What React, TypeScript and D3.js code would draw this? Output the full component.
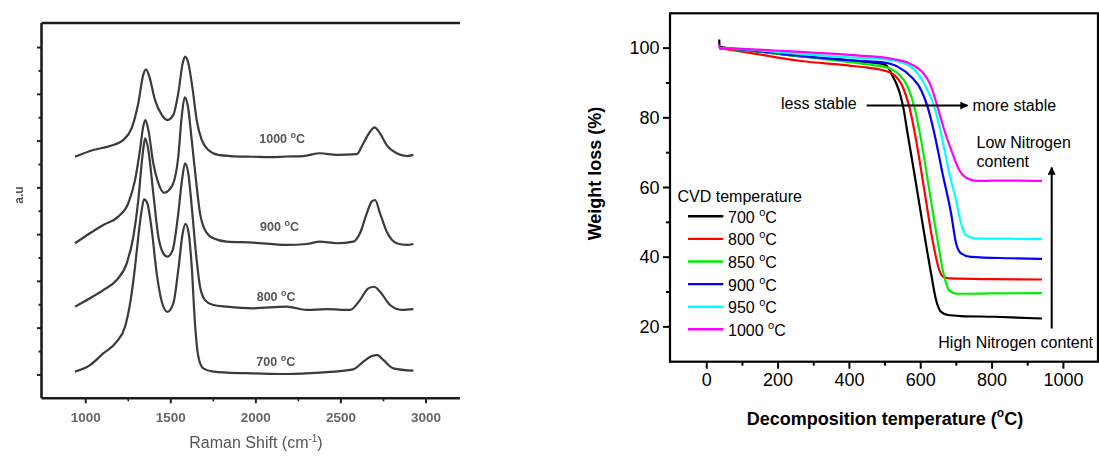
import React from 'react';
import * as d3 from 'd3';

// ---------- Left panel: Raman spectra (Raman shift cm-1, intensity a.u.) ----------
const ramanTicks = [1000, 1500, 2000, 2500, 3000];
const ramanMinorTicks = [1250, 1750, 2250, 2750];
const auTicks = [1, 2, 3, 4, 5, 6, 7, 8, 9, 10, 11, 12, 13, 14, 15];

const spec1000: [number, number][] = [
  [937, 10.33], [1045, 10.62], [1143, 10.79], [1221, 11.05], [1270, 11.55], [1309, 12.62], [1338, 13.83], [1354, 14.07],
  [1374, 13.76], [1407, 12.76], [1447, 12.12], [1480, 11.9], [1515, 12.12], [1544, 13.05], [1570, 14.33], [1584, 14.61],
  [1603, 14.33], [1629, 13.19], [1652, 11.9], [1682, 11.05], [1721, 10.62], [1779, 10.41], [1848, 10.36], [1985, 10.33],
  [2083, 10.31], [2181, 10.34], [2279, 10.36], [2377, 10.48], [2475, 10.41], [2593, 10.44], [2632, 10.91], [2671, 11.4],
  [2697, 11.59], [2730, 11.33], [2769, 10.83], [2828, 10.48], [2887, 10.36], [2926, 10.41],
];
const spec900: [number, number][] = [
  [937, 6.63], [1025, 7.06], [1103, 7.41], [1191, 7.77], [1250, 8.34], [1290, 9.34], [1319, 10.62], [1338, 11.62],
  [1350, 11.9], [1368, 11.48], [1397, 10.05], [1427, 9.2], [1460, 8.79], [1505, 9.05], [1544, 10.33], [1564, 12.04],
  [1582, 12.87], [1601, 12.47], [1623, 11.05], [1648, 9.34], [1672, 7.91], [1701, 7.2], [1750, 6.84], [1829, 6.7],
  [1985, 6.66], [2181, 6.56], [2299, 6.6], [2377, 6.7], [2475, 6.63], [2573, 6.7], [2612, 7.06], [2652, 7.91],
  [2681, 8.41], [2701, 8.48], [2730, 7.91], [2769, 7.13], [2828, 6.63], [2887, 6.56], [2926, 6.6],
];
const spec800: [number, number][] = [
  [937, 3.92], [1025, 4.28], [1103, 4.63], [1182, 5.06], [1241, 5.77], [1280, 6.91], [1309, 8.48], [1329, 10.05],
  [1343, 10.91], [1350, 11.12], [1368, 10.62], [1397, 8.77], [1427, 6.91], [1456, 6.2], [1480, 6.06], [1511, 6.34],
  [1544, 7.91], [1566, 9.34], [1584, 10.05], [1603, 9.62], [1623, 8.2], [1648, 6.2], [1672, 4.77], [1701, 4.2],
  [1750, 3.99], [1829, 3.92], [1985, 3.85], [2181, 3.92], [2299, 3.78], [2417, 3.81], [2554, 3.78], [2612, 4.2],
  [2661, 4.7], [2695, 4.77], [2730, 4.56], [2789, 3.99], [2858, 3.78], [2926, 3.81],
];
const spec700: [number, number][] = [
  [937, 1.14], [1025, 1.42], [1103, 1.92], [1182, 2.42], [1231, 3.06], [1264, 4.2], [1290, 5.63], [1309, 6.91],
  [1329, 8.05], [1343, 8.51], [1362, 8.34], [1388, 7.2], [1417, 5.35], [1447, 4.13], [1480, 3.7], [1515, 4.06],
  [1544, 5.49], [1570, 7.06], [1586, 7.46], [1605, 7.06], [1623, 5.63], [1642, 3.21], [1662, 1.78], [1691, 1.28],
  [1750, 1.14], [1829, 1.1], [1985, 1.07], [2181, 1.04], [2377, 1.1], [2573, 1.24], [2632, 1.57], [2681, 1.81],
  [2714, 1.85], [2749, 1.64], [2808, 1.28], [2926, 1.18],
];
const spectraLabels = ['1000', '900', '800', '700'];
const spectraLabelPos: [number, number][] = [[2020, 11.1], [2025, 7.34], [2005, 4.36], [2003, 1.57]];

// ---------- Right panel: TGA (temperature °C, weight %) ----------
const tempTicks = [0, 200, 400, 600, 800, 1000];
const tempMinorTicks = [100, 300, 500, 700, 900];
const weightTicks = [20, 40, 60, 80, 100];
const weightMinorTicks = [30, 50, 70, 90];

const tga700: [number, number][] = [
  [35, 102.5], [36, 100.4], [100, 99.6], [264, 97.6], [451, 96.0], [495, 95.4], [510, 94.2], [521, 92.0], [533, 89.5],
  [543, 86.5], [552, 82.5], [563, 75.6], [582, 64.1], [605, 49.7], [629, 35.3], [643, 27.7], [657, 24.3], [676, 23.4],
  [713, 23.1], [806, 22.9], [940, 22.4],
];
const tga800: [number, number][] = [
  [35, 100], [100, 99.0], [264, 96.3], [400, 95.0], [451, 94.4], [489, 93.8], [521, 92.6], [549, 89.0], [568, 83.2],
  [587, 73.6], [610, 59.3], [633, 44.9], [652, 36.3], [666, 34.2], [685, 33.9], [800, 33.7], [940, 33.6],
];
const tga850: [number, number][] = [
  [35, 100], [100, 99.5], [264, 97.6], [451, 95.3], [498, 94.6], [535, 92.8], [563, 89.0], [582, 83.2], [601, 73.6],
  [624, 59.3], [647, 44.9], [666, 34.4], [680, 30.5], [704, 29.5], [800, 29.6], [940, 29.7],
];
const tga900: [number, number][] = [
  [35, 100], [100, 99.6], [264, 97.8], [451, 96.2], [489, 96.0], [535, 94.7], [573, 91.8], [601, 88.0], [619, 83.2],
  [638, 75.6], [661, 64.1], [685, 52.6], [699, 44.0], [713, 41.1], [741, 40.1], [850, 39.7], [940, 39.5],
];
const tga950: [number, number][] = [
  [35, 100], [100, 99.7], [264, 98.3], [451, 97.1], [489, 96.9], [554, 95.7], [591, 92.8], [619, 88.0], [638, 83.2],
  [657, 75.6], [680, 64.1], [699, 56.4], [713, 49.7], [727, 46.3], [750, 45.4], [850, 45.3], [940, 45.2],
];
const tga1000: [number, number][] = [
  [35, 101], [36, 100], [100, 99.8], [264, 98.9], [451, 97.7], [489, 97.4], [526, 96.8], [563, 95.9], [582, 94.9],
  [601, 93.5], [629, 89.0], [647, 83.2], [666, 76.5], [689, 69.8], [708, 65.0], [731, 62.6], [760, 61.9], [850, 62.0],
  [940, 61.9],
];
const cvdTemps = ['700', '800', '850', '900', '950', '1000'];
const cvdColors = ['#000000', '#ff0000', '#00ee00', '#0000ff', '#00ffff', '#ff00ff'];

const FONT = '"Liberation Sans", Arial, Helvetica, sans-serif';

export default function App() {
  // left scales
  const xL = d3.scaleLinear().domain([740, 3200]).range([41.5, 460]);
  const yL = d3.scaleLinear().domain([0, 16.05]).range([398.3, 23]);
  const lineL = d3
    .line<[number, number]>()
    .x((d) => xL(d[0]))
    .y((d) => yL(d[1]))
    .curve(d3.curveMonotoneX);
  const spectra = [spec1000, spec900, spec800, spec700];

  // right scales
  const xR = d3.scaleLinear().domain([-103, 1097]).range([670, 1098]);
  const yR = d3.scaleLinear().domain([10, 110]).range([361.7, 13.3]);
  const lineR = d3
    .line<[number, number]>()
    .x((d) => xR(d[0]))
    .y((d) => yR(d[1]))
    .curve(d3.curveMonotoneX);
  const tgaSeries = [tga700, tga800, tga850, tga900, tga950, tga1000];

  const leftX0 = xL.range()[0];
  const leftX1 = xL.range()[1];
  const leftY0 = yL.range()[0];
  const leftY1 = yL.range()[1];
  const rX0 = xR.range()[0];
  const rX1 = xR.range()[1];
  const rY0 = yR.range()[0];
  const rY1 = yR.range()[1];

  const legendY0 = 216.3;
  const legendStep = 22.6;

  return (
    <svg
      width={1099}
      height={459}
      viewBox="0 0 1099 459"
      style={{ position: 'absolute', left: 0, top: 0, background: '#ffffff' }}
      fontFamily={FONT}
    >
      <defs>
        <filter id="soft" x="-5%" y="-5%" width="110%" height="110%">
          <feGaussianBlur stdDeviation="0.55" />
        </filter>
        <marker id="arrowHead" viewBox="0 0 10 10" refX="9" refY="5" markerWidth="10" markerHeight="8" markerUnits="userSpaceOnUse" orient="auto">
          <path d="M0,0 L10,5 L0,10 z" fill="#000" />
        </marker>
      </defs>
      <rect x={0} y={0} width={1099} height={459} fill="#ffffff" />

      {/* ---------------- LEFT PANEL ---------------- */}
      <g filter="url(#soft)">
        {spectra.map((s, i) => (
          <path key={i} d={lineL(s) || ''} fill="none" stroke="#3a3a3a" strokeWidth={2.2} strokeLinejoin="round" />
        ))}
        {/* frame */}
        <line x1={leftX0} y1={leftY1} x2={leftX1} y2={leftY1} stroke="#1e1e1e" strokeWidth={2.4} />
        <line x1={leftX0} y1={leftY1} x2={leftX0} y2={leftY0} stroke="#1e1e1e" strokeWidth={2.6} />
        <line x1={leftX0} y1={leftY0} x2={leftX1} y2={leftY0} stroke="#1e1e1e" strokeWidth={2.6} />
        {auTicks.map((t) => (
          <line key={t} x1={leftX0 - (t % 2 === 1 ? 4.5 : 3)} x2={leftX0} y1={yL(t)} y2={yL(t)} stroke="#222" strokeWidth={2} />
        ))}
        {ramanTicks.map((t) => (
          <line key={t} x1={xL(t)} x2={xL(t)} y1={leftY0} y2={leftY0 + 5} stroke="#222" strokeWidth={2} />
        ))}
        {ramanMinorTicks.map((t) => (
          <line key={t} x1={xL(t)} x2={xL(t)} y1={leftY0} y2={leftY0 + 3} stroke="#222" strokeWidth={1.6} />
        ))}
        {ramanTicks.map((t) => (
          <text key={t} x={xL(t)} y={421.5} textAnchor="middle" fontSize={13.5} fontWeight="bold" fill="#666">
            {t}
          </text>
        ))}
        <text x={256} y={448} textAnchor="middle" fontSize={16} fill="#555">
          Raman Shift (cm
          <tspan fontSize={10} dy={-6}>-1</tspan>
          <tspan dy={6}>)</tspan>
        </text>
        <text transform="translate(23,195) rotate(-90)" textAnchor="middle" fontSize={12} fontWeight="bold" fill="#555">
          a.u
        </text>
        {spectraLabels.map((lab, i) => (
          <text key={lab} x={xL(spectraLabelPos[i][0])} y={yL(spectraLabelPos[i][1])} fontSize={12.5} fontWeight="bold" fill="#555" dy="0.35em">
            {lab + ' '}
            <tspan fontSize={9} dy={-5}>o</tspan>
            <tspan dy={5}>C</tspan>
          </text>
        ))}
      </g>

      {/* ---------------- RIGHT PANEL ---------------- */}
      <g>
        {tgaSeries.map((s, i) => (
          <path key={i} d={lineR(s) || ''} fill="none" stroke={cvdColors[i]} strokeWidth={2.2} strokeLinejoin="round" />
        ))}
        {/* frame */}
        <rect x={rX0} y={rY1} width={rX1 - rX0} height={rY0 - rY1} fill="none" stroke="#000" strokeWidth={2.2} />
        {weightTicks.map((t) => (
          <g key={t}>
            <line x1={rX0 - 7} x2={rX0} y1={yR(t)} y2={yR(t)} stroke="#000" strokeWidth={2} />
            <text x={659.5} y={yR(t)} dy="0.35em" textAnchor="end" fontSize={18} fill="#000">
              {t}
            </text>
          </g>
        ))}
        {weightMinorTicks.map((t) => (
          <line key={t} x1={rX0 - 4} x2={rX0} y1={yR(t)} y2={yR(t)} stroke="#000" strokeWidth={2} />
        ))}
        {tempTicks.map((t) => (
          <g key={t}>
            <line x1={xR(t)} x2={xR(t)} y1={rY0} y2={rY0 + 7} stroke="#000" strokeWidth={2} />
            <text x={xR(t)} y={386} textAnchor="middle" fontSize={18} fill="#000">
              {t}
            </text>
          </g>
        ))}
        {tempMinorTicks.map((t) => (
          <line key={t} x1={xR(t)} x2={xR(t)} y1={rY0} y2={rY0 + 4} stroke="#000" strokeWidth={2} />
        ))}
        {/* axis titles */}
        <text x={885} y={424.5} textAnchor="middle" fontSize={18} fontWeight="bold" fill="#000">
          Decomposition temperature (
          <tspan fontSize={12} dy={-8}>o</tspan>
          <tspan dy={8}>C)</tspan>
        </text>
        <text transform="translate(600.5,173.5) rotate(-90)" textAnchor="middle" fontSize={18} fontWeight="bold" fill="#000">
          Weight loss (%)
        </text>

        {/* legend */}
        <text x={677.5} y={202} fontSize={16} fill="#000">
          CVD temperature
        </text>
        {cvdTemps.map((t, i) => (
          <g key={t}>
            <line x1={688} x2={723.3} y1={legendY0 + i * legendStep} y2={legendY0 + i * legendStep} stroke={cvdColors[i]} strokeWidth={2.4} />
            <text x={728} y={legendY0 + i * legendStep + 6.5} fontSize={16} fill="#000">
              {t + ' '}
              <tspan fontSize={11} dy={-7}>o</tspan>
              <tspan dy={7}>C</tspan>
            </text>
          </g>
        ))}

        {/* annotations */}
        <text x={781} y={108.5} fontSize={16} fill="#000">
          less stable
        </text>
        <line x1={866.7} y1={105.5} x2={967.5} y2={105.5} stroke="#000" strokeWidth={2} markerEnd="url(#arrowHead)" />
        <text x={972.5} y={111} fontSize={16} fill="#000">
          more stable
        </text>
        <text x={976.5} y={147.5} fontSize={16} fill="#000">
          Low Nitrogen
        </text>
        <text x={976.5} y={166.5} fontSize={16} fill="#000">
          content
        </text>
        <line x1={1051.7} y1={328.5} x2={1051.7} y2={167.5} stroke="#000" strokeWidth={2} markerEnd="url(#arrowHead)" />
        <text x={938.3} y={347.5} fontSize={16} fill="#000">
          High Nitrogen content
        </text>
      </g>
    </svg>
  );
}
